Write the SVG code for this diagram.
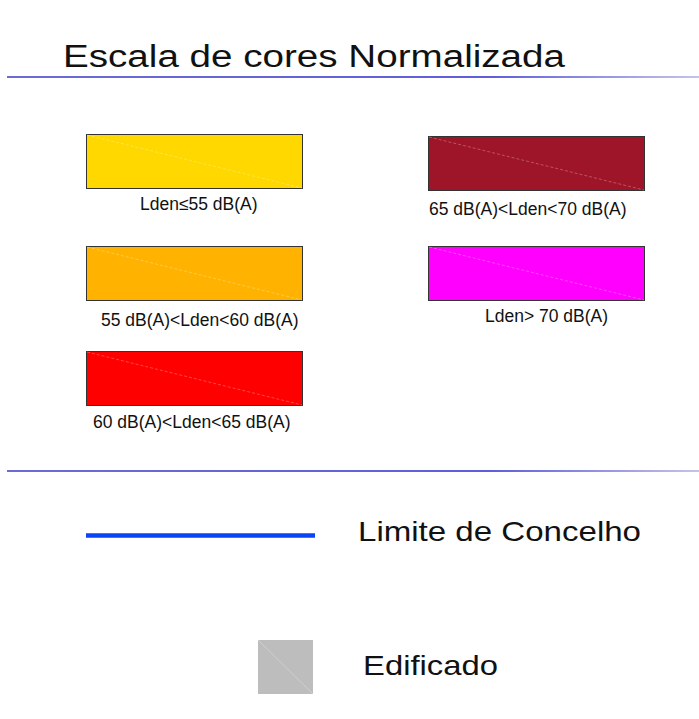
<svg xmlns="http://www.w3.org/2000/svg" width="699" height="719" viewBox="0 0 699 719">
<style>
.title{font-family:"Liberation Sans","DejaVu Sans",sans-serif;font-size:31px;fill:#111}
.big{font-family:"Liberation Sans","DejaVu Sans",sans-serif;font-size:28px;fill:#111}
.lbl{font-family:"Liberation Sans",Arial,sans-serif;font-size:17.5px;fill:#111}
.sw{stroke:#333;stroke-width:1}
.dg{stroke:#fff;stroke-opacity:0.35;stroke-width:0.8;stroke-dasharray:3 2}
.rule{stroke:url(#rg);stroke-width:1.5}
</style>
<defs>
<linearGradient id="rg" gradientUnits="userSpaceOnUse" x1="7" y1="0" x2="699" y2="0">
<stop offset="0" stop-color="#3a3ac8"/>
<stop offset="0.7" stop-color="#2828d0"/>
<stop offset="1" stop-color="#b0b0e0"/>
</linearGradient>
</defs>
<rect width="699" height="719" fill="#fff"/>
<g id="title">
<text class="title" x="63" y="67" textLength="502" lengthAdjust="spacingAndGlyphs">Escala de cores Normalizada</text>
</g>
<g id="rules">
<line class="rule" x1="7" y1="77" x2="699" y2="77"/>
<line class="rule" x1="7" y1="471" x2="699" y2="471"/>
</g>
<g id="lden55">
<rect class="sw" x="86.5" y="134.5" width="216" height="54" fill="#FFD800"/>
<line class="dg" x1="87" y1="135" x2="302" y2="188"/>
<text class="lbl" x="140" y="210">Lden≤55 dB(A)</text>
</g>
<g id="lden55-60">
<rect class="sw" x="86.5" y="246.5" width="216" height="54" fill="#FFB300"/>
<line class="dg" x1="87" y1="247" x2="302" y2="300"/>
<text class="lbl" x="101" y="326">55 dB(A)&lt;Lden&lt;60 dB(A)</text>
</g>
<g id="lden60-65">
<rect class="sw" x="86.5" y="351.5" width="216" height="54" fill="#FF0000"/>
<line class="dg" x1="87" y1="352" x2="302" y2="405"/>
<text class="lbl" x="93" y="428">60 dB(A)&lt;Lden&lt;65 dB(A)</text>
</g>
<g id="lden65-70">
<rect class="sw" x="428.5" y="136.5" width="216" height="54" fill="#9E1428"/>
<line class="dg" x1="429" y1="137" x2="644" y2="190"/>
<text class="lbl" x="429" y="215">65 dB(A)&lt;Lden&lt;70 dB(A)</text>
</g>
<g id="lden70">
<rect class="sw" x="428.5" y="246.5" width="216" height="54" fill="#FF00FF"/>
<line class="dg" x1="429" y1="247" x2="644" y2="300"/>
<text class="lbl" x="485" y="322">Lden&gt; 70 dB(A)</text>
</g>
<g id="limite">
<line x1="86" y1="535.5" x2="315" y2="535.5" stroke="#0A44F5" stroke-width="4.5"/>
<text class="big" x="358" y="541" textLength="283" lengthAdjust="spacingAndGlyphs">Limite de Concelho</text>
</g>
<g id="edificado">
<rect x="258" y="640" width="55" height="54" fill="#BDBDBD"/>
<line x1="258" y1="640" x2="313" y2="694" stroke="#fff" stroke-opacity="0.35" stroke-width="0.8"/>
<text class="big" x="363" y="675" textLength="135" lengthAdjust="spacingAndGlyphs">Edificado</text>
</g>
</svg>
